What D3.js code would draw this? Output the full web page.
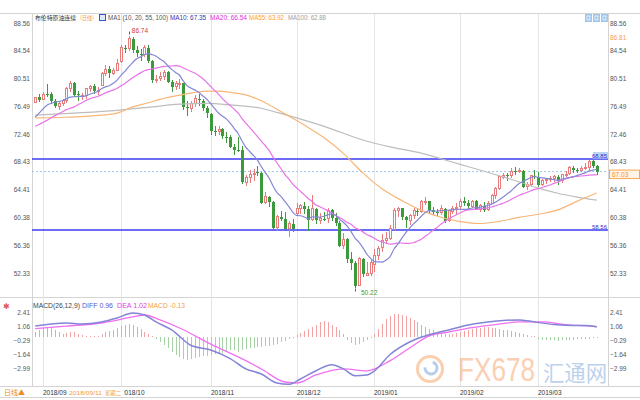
<!DOCTYPE html>
<html><head><meta charset="utf-8">
<script src="https://cdn.jsdelivr.net/npm/d3@7/dist/d3.min.js"></script>
<style>
html,body{margin:0;padding:0;background:#fff;}
svg{display:block;font-family:"Liberation Sans","Noto Sans CJK SC",sans-serif;}
</style></head><body>
<svg id="chart" width="640" height="400"></svg>
<script>
// ---------- DATA ----------
const opens=[77.1,77.8,77.5,78.3,78.2,77.3,76.5,76.9,77.4,79.1,
79.8,78.3,77.9,78.0,79.0,79.4,78.6,79.5,81.2,81.9,
81.3,81.7,83.0,85.0,84.8,86.3,84.6,84.1,84.0,85.0,
83.0,80.2,80.5,80.8,81.4,80.0,79.3,79.8,79.8,76.4,
76.2,76.9,77.6,77.3,76.3,75.4,72.9,72.8,73.2,72.1,
72.1,70.6,70.2,70.1,65.5,66.1,66.6,67.0,66.8,62.5,
63.4,62.6,58.9,60.5,60.2,58.8,59.5,61.0,61.7,62.1,
61.6,60.1,61.6,60.0,60.2,60.2,61.4,60.3,59.6,56.3,
57.2,54.3,53.8,50.5,54.4,52.0,52.2,53.6,54.9,56.0,
57.1,57.3,58.7,61.4,61.7,60.4,60.0,60.6,61.3,61.2,
62.7,62.7,61.5,61.2,61.1,61.6,59.9,61.3,61.7,61.9,
62.7,62.5,62.0,62.7,61.6,62.1,61.5,62.4,63.6,64.6,
66.2,66.5,66.4,67.1,67.0,67.1,64.8,65.2,66.4,66.3,
65.1,65.7,65.9,66.0,66.3,65.7,66.6,66.7,67.5,67.2,
67.2,67.5,67.6,68.5,67.9];
const highs=[77.9,78.3,78.5,79.72,78.5,77.6,77.2,77.6,79.3,80.1,
80.0,78.7,78.4,79.2,79.6,79.7,79.3,81.4,82.5,82.3,
82.0,83.3,85.4,85.4,86.74,86.5,85.2,84.8,85.3,85.4,
83.2,81.0,81.4,81.7,81.6,80.3,80.2,80.5,79.9,77.3,
77.2,78.1,78.3,77.5,76.6,75.5,73.7,73.6,73.3,72.8,
72.3,71.0,72.0,70.7,66.6,67.2,67.4,67.8,67.0,64.0,
63.5,62.8,60.8,61.3,61.2,59.9,60.2,62.5,62.4,62.6,
62.0,63.7,61.8,61.0,61.2,61.7,61.6,61.0,59.9,58.1,
57.4,55.4,54.0,54.6,54.5,53.9,54.2,55.8,56.2,58.0,
58.3,59.3,61.7,61.9,61.8,60.6,60.9,61.8,61.8,62.9,
63.3,62.8,61.9,61.6,62.2,61.7,61.5,62.0,62.5,63.0,
63.3,62.9,62.9,62.9,62.3,62.6,62.8,63.8,64.8,66.4,
66.8,66.8,67.5,67.7,67.6,67.3,65.5,66.6,67.2,66.9,
65.9,66.0,66.4,66.6,66.5,66.7,67.1,67.8,67.9,67.5,
67.8,68.2,68.7,68.69,68.0];
const lows=[76.9,77.1,77.4,77.8,76.8,76.3,75.9,76.5,76.9,78.5,
77.8,77.3,77.4,77.6,78.5,78.3,78.1,79.4,80.9,80.6,
81.0,81.6,82.8,84.2,84.5,84.2,83.7,83.0,83.7,82.8,
79.8,79.9,80.1,80.3,79.9,78.5,78.8,79.0,75.9,75.1,
75.6,76.4,76.6,75.8,74.8,72.4,72.2,72.3,71.7,71.2,
70.4,69.5,69.9,65.3,64.9,65.4,65.7,66.4,62.3,62.4,
61.9,58.4,58.4,59.8,58.4,57.5,58.3,60.6,60.9,60.9,
58.4,59.8,59.4,59.5,59.9,59.6,59.9,59.2,56.1,55.8,
53.8,52.8,50.22,50.4,51.8,51.9,51.9,52.5,54.2,55.4,
56.6,57.1,58.6,60.5,60.0,58.9,59.3,60.2,60.6,61.0,
62.2,60.9,60.7,60.6,60.8,59.6,59.7,60.9,60.8,61.4,
62.1,61.4,61.7,61.4,61.2,61.2,61.3,62.3,63.1,64.4,
65.9,65.6,66.1,66.6,66.8,64.6,64.3,65.0,65.9,64.8,
64.9,65.2,65.5,65.5,65.1,65.4,66.3,66.5,66.8,66.8,
67.0,67.3,67.1,67.6,66.5];
const closes=[77.77,77.42,78.15,78.17,77.27,76.50,76.83,77.37,79.06,79.74,
78.18,78.09,78.05,79.03,79.40,78.70,78.80,81.20,81.87,81.34,
81.72,82.72,84.98,84.80,86.29,84.58,84.16,83.91,85.00,83.09,
80.26,80.43,80.78,81.41,80.05,79.29,79.78,79.83,76.44,76.17,
76.89,77.62,77.34,76.31,75.47,72.89,72.83,73.17,72.13,72.07,
70.65,70.18,70.12,65.47,66.12,66.62,66.76,66.79,62.53,63.48,
62.60,58.80,60.48,60.21,58.76,59.51,58.71,61.69,62.08,61.56,
60.06,61.67,59.97,60.20,60.15,61.45,60.28,59.61,56.26,57.24,
54.35,53.82,50.47,54.47,52.16,52.20,53.80,54.91,55.95,57.06,
57.33,58.72,61.44,61.68,60.48,59.99,60.64,61.32,61.18,62.70,
62.74,61.50,61.14,61.09,61.64,59.93,61.32,61.65,61.89,62.75,
62.51,61.98,62.69,61.63,62.10,61.51,62.42,63.61,64.57,66.25,
66.50,66.45,67.08,67.07,67.12,64.76,65.21,66.39,66.31,65.07,
65.67,65.86,65.99,66.30,65.74,66.58,66.67,67.55,67.23,67.16,
67.54,67.61,68.50,67.86,67.03];
const ma10=[74.94,75.50,76.10,76.65,76.90,77.08,77.18,77.29,77.57,77.83,
77.87,77.94,77.93,78.01,78.23,78.45,78.64,79.03,79.31,79.47,
79.82,80.28,80.98,81.55,82.24,82.83,83.37,83.64,83.95,84.13,
83.98,83.75,83.33,82.99,82.37,81.84,81.40,80.99,80.14,79.44,
79.11,78.83,78.48,77.97,77.51,76.87,76.18,75.51,75.08,74.67,
74.05,73.30,72.58,71.50,70.56,69.94,69.33,68.69,67.73,66.87,
66.07,64.93,63.97,63.44,62.70,61.99,61.19,60.68,60.63,60.44,
60.19,60.47,60.42,60.42,60.56,60.75,60.91,60.70,60.12,59.69,
59.12,58.33,57.38,56.81,56.01,55.09,54.44,53.97,53.94,53.92,
54.22,54.71,55.80,56.53,57.36,58.14,58.82,59.46,59.98,60.55,
61.09,61.37,61.34,61.28,61.39,61.39,61.46,61.49,61.56,61.57,
61.54,61.59,61.75,61.80,61.85,62.00,62.11,62.31,62.58,62.93,
63.33,63.77,64.21,64.76,65.26,65.58,65.86,66.14,66.31,66.20,
66.11,66.05,65.95,65.87,65.73,65.91,66.06,66.17,66.27,66.48,
66.66,66.84,67.09,67.24,67.37];
const ma20=[73.60,73.85,74.15,74.45,74.80,75.10,75.40,75.70,76.00,76.20,
76.41,76.72,77.01,77.33,77.56,77.76,77.91,78.16,78.44,78.65,
78.84,79.11,79.45,79.78,80.23,80.64,81.00,81.33,81.63,81.80,
81.90,82.02,82.15,82.27,82.30,82.33,82.38,82.31,82.04,81.78,
81.54,81.29,80.91,80.48,79.94,79.36,78.79,78.25,77.61,77.06,
76.58,76.07,75.53,74.74,74.04,73.41,72.75,72.10,71.41,70.77,
70.06,69.12,68.27,67.47,66.63,65.96,65.26,64.68,64.18,63.66,
63.13,62.70,62.19,61.93,61.63,61.37,61.05,60.69,60.38,60.06,
59.65,59.40,58.90,58.62,58.29,57.92,57.67,57.34,57.03,56.80,
56.67,56.52,56.59,56.67,56.68,56.61,56.63,56.71,56.96,57.23,
57.65,58.04,58.57,58.90,59.38,59.76,60.14,60.48,60.77,61.06,
61.32,61.48,61.54,61.54,61.62,61.70,61.78,61.90,62.07,62.25,
62.43,62.68,62.98,63.28,63.55,63.79,63.99,64.22,64.45,64.56,
64.72,64.91,65.08,65.31,65.49,65.75,65.96,66.16,66.29,66.34,
66.39,66.45,66.52,66.56,66.55];
const ma55Idx=[0,8,17,21,25,29,32,37,41,44,47,50,54,59,64,69,74,79,84,89,94,99,104,109,114,119,124,129,134,139,144];
const ma55Val=[74.8,74.9,75.2,75.5,76.4,77.0,77.5,78.1,78.5,78.7,78.7,78.5,78.14,77.01,75.39,73.77,71.96,69.67,66.84,64.50,62.83,61.41,60.41,59.78,59.50,59.82,60.38,60.84,61.47,62.75,63.92];
const ma100Idx=[0,10,21,30,37,44,50,58,62,67,75,84,91,99,104,109,114,119,124,129,134,139,144];
const ma100Val=[75.2,75.5,75.9,76.4,76.8,76.9,76.7,76.2,75.6,74.8,73.4,71.6,70.6,69.70,68.89,68.07,67.26,66.42,65.56,64.63,63.89,63.33,62.88];
const diffIdx=[0,8,12,17,21,25,28,31,35,40,45,50,54,58,62,65,68,72,76,79,82,85,87,91,96,100,106,111,115,120,124,128,133,138,141,144];
const diffVal=[1.06,1.35,1.25,1.45,1.83,2.31,2.12,1.45,0.68,-0.82,-1.25,-2.08,-3.07,-3.57,-4.44,-4.56,-4.05,-3.26,-2.67,-3.07,-3.73,-3.66,-3.26,-1.69,-0.48,0.10,0.68,1.16,1.40,1.60,1.65,1.45,1.20,1.10,1.10,0.96];
const deaIdx=[0,8,17,25,28,32,37,45,54,58,64,67,72,79,85,91,96,101,106,112,118,124,130,136,140,144];
const deaVal=[0.80,1.05,1.35,1.93,2.12,1.64,0.87,-0.68,-2.28,-3.09,-4.34,-4.44,-3.66,-3.07,-3.26,-2.28,-1.06,0.10,0.48,0.90,1.20,1.45,1.45,1.20,1.10,1.02];
const macdHist=[0.5,0.7,0.9,1.0,0.9,0.7,0.5,0.3,0.4,0.5,
0.45,0.3,0.2,0.1,0.05,0.05,0.1,0.3,0.5,0.6,
0.7,0.9,1.1,1.2,1.3,1.2,1.0,0.8,0.5,0.3,
0.1,-0.2,-0.5,-0.8,-1.1,-1.4,-1.7,-1.9,-2.1,-2.2,
-2.1,-2.0,-1.9,-1.8,-1.8,-1.7,-1.6,-1.5,-1.5,-1.4,
-1.3,-1.3,-1.4,-1.3,-1.2,-1.1,-1.1,-1.0,-1.0,-0.9,
-0.9,-0.8,-0.7,-0.5,-0.4,-0.2,-0.05,0.2,0.4,0.6,
0.8,1.0,1.2,1.4,1.5,1.4,1.2,1.0,0.7,0.3,
-0.3,-0.6,-0.8,-0.7,-0.5,-0.3,-0.1,0.3,0.8,1.3,
1.7,2.0,2.2,2.2,2.1,2.0,1.8,1.6,1.4,1.2,
1.0,0.8,0.7,0.5,0.4,0.3,0.3,0.3,0.4,0.5,
0.6,0.7,0.8,0.9,0.9,1.0,1.0,0.9,0.9,0.8,
0.7,0.7,0.6,0.5,0.4,0.3,0.2,0.1,0.05,-0.2,
-0.25,-0.3,-0.3,-0.3,-0.35,-0.3,-0.3,-0.25,-0.25,-0.2,
-0.2,-0.15,-0.15,-0.1,-0.13];
const monthIdx=[2,22,45,67,87,109,129];
const monthLabels=["2018/09","2018/10","2018/11","2018/12","2019/01","2019/02","2019/03"];
const priceTicks=[88.56,84.54,80.51,76.49,72.46,68.43,64.41,60.38,56.36,52.33];
const macdTicks=[2.41,1.06,-0.29,-1.64,-2.99];
const levelLines=[68.85,58.56];
const lastPrice=67.03;
const markHigh={idx:24,value:86.74};
const markLow={idx:82,value:50.22};
const titleText="布伦特原油连续";
const maLegend=[["MA10: 67.35","#3535b5"],["MA20: 66.54","#e22ee2"],["MA55: 63.92","#ff9a2e"],["MA100: 62.88","#a0a0a0"]];
const macdLegend=[["DIFF 0.96","#5a5ad0"],["DEA 1.02","#e040e0"],["MACD -0.13","#f4a040"]];

// ---------- SCALES ----------
const svg=d3.select("#chart");
const PL=32, PR=608;
const x=d3.scaleLinear().domain([0,closes.length-1]).range([35.2,596.8]);
const y=d3.scaleLinear().domain([52.33,88.56]).range([273,23]);
const ym=d3.scaleLinear().domain([-2.99,2.41]).range([368,312]);
const RED="#e97b7b", GREEN="#3c9a3c";
const px=i=>Math.round(x(i));

// ---------- FRAME ----------
const frame=svg.append("g").attr("stroke","#d4d4d4").attr("shape-rendering","crispEdges");
[13.5,297.5,386.5,397.5].forEach(v=>frame.append("line").attr("x1",0).attr("x2",640).attr("y1",v).attr("y2",v));
frame.append("line").attr("x1",PL+0.5).attr("x2",PL+0.5).attr("y1",13).attr("y2",387);
frame.append("line").attr("x1",PR+0.5).attr("x2",PR+0.5).attr("y1",13).attr("y2",387);

// month gridlines
svg.append("g").selectAll("line").data(monthIdx).join("line")
  .attr("x1",d=>px(d)+0.5).attr("x2",d=>px(d)+0.5).attr("y1",14).attr("y2",386)
  .attr("stroke","#e4e4e4").attr("shape-rendering","crispEdges");

// ---------- WATERMARK (behind labels) ----------
const wm=svg.append("g").attr("opacity",0.5);
wm.append("circle").attr("cx",430).attr("cy",369).attr("r",12.5).attr("fill","none").attr("stroke","#f4a060").attr("stroke-width",3);
wm.append("path").attr("d",d3.arc()({innerRadius:4.5,outerRadius:7.5,startAngle:0.3,endAngle:4.8})).attr("transform","translate(431,368)").attr("fill","#6f9fd8");
wm.append("g").attr("transform","translate(458,381) scale(1,1.25)")
  .append("text").attr("x",0).attr("y",0).attr("font-size",27).attr("font-family","Liberation Sans").attr("fill","#f6a068").attr("textLength",77).attr("lengthAdjust","spacingAndGlyphs").text("FX678");
wm.append("text").attr("x",543).attr("y",381).attr("font-size",21.5).attr("font-family","Noto Sans CJK SC").attr("fill","#7aa6da").attr("textLength",64).attr("lengthAdjust","spacingAndGlyphs").text("汇通网");

// ---------- AXES ----------
function styleAxis(g){g.select(".domain").remove();g.attr("font-family","Liberation Sans, sans-serif").attr("font-size",6.5);g.selectAll("text").attr("fill","#555");}
svg.append("g").attr("transform","translate(610,0)")
  .call(d3.axisRight(y).tickValues(priceTicks).tickFormat(d3.format(".2f")).tickSize(0).tickPadding(0)).call(styleAxis);
svg.append("g").attr("transform","translate(30,0)")
  .call(d3.axisLeft(y).tickValues(priceTicks).tickFormat(d3.format(".2f")).tickSize(0).tickPadding(0)).call(styleAxis);
svg.append("g").attr("transform","translate(610,0)")
  .call(d3.axisRight(ym).tickValues(macdTicks).tickFormat(d3.format(".2f")).tickSize(0).tickPadding(0)).call(styleAxis);
svg.append("g").attr("transform","translate(30,0)")
  .call(d3.axisLeft(ym).tickValues(macdTicks).tickFormat(d3.format(".2f")).tickSize(0).tickPadding(0)).call(styleAxis);

// date labels
svg.append("g").selectAll("text").data(monthIdx).join("text")
  .attr("x",d=>px(d)).attr("y",395).attr("font-size",6.5).attr("fill","#333")
  .text((d,i)=>monthLabels[i]);

// ---------- LEVEL LINES ----------
svg.append("line").attr("x1",PL).attr("x2",PR).attr("y1",y(lastPrice)).attr("y2",y(lastPrice))
  .attr("stroke","#9cc6ee").attr("stroke-dasharray","2,2");
svg.append("g").selectAll("line").data(levelLines).join("line")
  .attr("x1",PL).attr("x2",PR).attr("y1",d=>y(d)).attr("y2",d=>y(d))
  .attr("stroke","#3b3bf0").attr("stroke-width",1.6);
svg.append("rect").attr("x",593).attr("y",y(levelLines[0])-7).attr("width",15).attr("height",6.5).attr("fill","#bcd6f4");
svg.append("g").selectAll("text").data(levelLines).join("text")
  .attr("x",607).attr("y",d=>y(d)-1.5).attr("text-anchor","end").attr("font-size",6).attr("fill","#3030d0")
  .text(d=>d3.format(".2f")(d));
// last price box
svg.append("rect").attr("x",609.5).attr("y",y(lastPrice)-1.5).attr("width",30).attr("height",8.5)
  .attr("fill","#fff4e6").attr("stroke","#f7a650");
svg.append("text").attr("x",612).attr("y",y(lastPrice)+5).attr("font-size",6.5).attr("fill","#f39030").text(d3.format(".2f")(lastPrice));
svg.append("text").attr("x",610).attr("y",40).attr("font-size",6.5).attr("fill","#f6a050").text("86.81");

// ---------- CANDLES ----------
const candles=closes.map((c,i)=>({i,o:opens[i],h:highs[i],l:lows[i],c,up:c>=opens[i]}));
const cg=svg.append("g").attr("shape-rendering","crispEdges");
cg.selectAll("line").data(candles).join("line")
  .attr("x1",d=>px(d.i)+0.5).attr("x2",d=>px(d.i)+0.5)
  .attr("y1",d=>y(d.h)).attr("y2",d=>y(d.l))
  .attr("stroke",d=>d.up?RED:GREEN);
cg.selectAll("rect").data(candles).join("rect")
  .attr("x",d=>d.up?px(d.i)-0.5:px(d.i)-1)
  .attr("width",d=>d.up?2:3)
  .attr("y",d=>y(Math.max(d.o,d.c)))
  .attr("height",d=>Math.max(1,Math.abs(y(d.o)-y(d.c))))
  .attr("fill",d=>d.up?"#fff":GREEN)
  .attr("stroke",d=>d.up?RED:"none");

// ---------- MOVING AVERAGES ----------
const lineP=d3.line().x(d=>x(d[0])).y(d=>y(d[1])).curve(d3.curveMonotoneX);
const maSeries=[
  {pts:ma100Idx.map((v,k)=>[v,ma100Val[k]]),color:"#bdbdbd"},
  {pts:ma55Idx.map((v,k)=>[v,ma55Val[k]]),color:"#f8b678"},
  {pts:ma20.map((v,i)=>[i,v]),color:"#e874e8"},
  {pts:ma10.map((v,i)=>[i,v]),color:"#8686d6"}];
svg.append("g").selectAll("path").data(maSeries).join("path")
  .attr("d",d=>lineP(d.pts)).attr("fill","none").attr("stroke",d=>d.color).attr("stroke-width",1.2);

// high / low marks
svg.append("line").attr("x1",px(markHigh.idx)+0.5).attr("x2",px(markHigh.idx)+0.5)
  .attr("y1",y(markHigh.value)-1).attr("y2",y(markHigh.value)-4).attr("stroke","#666");
svg.append("text").attr("x",x(markHigh.idx)+3).attr("y",y(markHigh.value)-2.5).attr("font-size",6.5).attr("fill","#d03a3a").text(markHigh.value.toFixed(2));
svg.append("line").attr("x1",px(markLow.idx)+0.5).attr("x2",px(markLow.idx)+0.5)
  .attr("y1",y(markLow.value)+1).attr("y2",y(markLow.value)+4).attr("stroke","#666");
svg.append("text").attr("x",x(markLow.idx)+6).attr("y",y(markLow.value)+7).attr("font-size",6.5).attr("fill","#3a9a3a").text(markLow.value.toFixed(2));

// ---------- MACD ----------
svg.append("g").attr("shape-rendering","crispEdges").selectAll("line").data(macdHist).join("line")
  .attr("x1",(d,i)=>px(i)+0.5).attr("x2",(d,i)=>px(i)+0.5)
  .attr("y1",ym(0)).attr("y2",d=>ym(d))
  .attr("stroke",d=>d>=0?"#f2a2a2":"#a6d2a6");
const lineM=d3.line().x(d=>x(d[0])).y(d=>ym(d[1])).curve(d3.curveMonotoneX);
svg.append("path").attr("d",lineM(deaIdx.map((v,k)=>[v,deaVal[k]]))).attr("fill","none").attr("stroke","#f070f0").attr("stroke-width",1.3);
svg.append("path").attr("d",lineM(diffIdx.map((v,k)=>[v,diffVal[k]]))).attr("fill","none").attr("stroke","#8484d8").attr("stroke-width",1.5);

// ---------- TITLES ----------
const T=svg.append("g").attr("font-size",6.5);
T.append("text").attr("x",35).attr("y",20).attr("font-size",5.9).attr("fill","#333").attr("font-family","Noto Sans CJK SC").attr("textLength",41).attr("lengthAdjust","spacingAndGlyphs").text(titleText);
T.append("text").attr("x",77).attr("y",20).attr("font-size",5.3).attr("fill","#f39a3c").attr("font-family","Noto Sans CJK SC").attr("textLength",20).attr("lengthAdjust","spacingAndGlyphs").text("（日线）");
T.append("rect").attr("x",99.5).attr("y",14.5).attr("width",6).attr("height",6).attr("fill","#dfe8ff").attr("stroke","#3a55c8");
T.append("text").attr("x",108).attr("y",20).attr("fill","#555").attr("textLength",60).attr("lengthAdjust","spacingAndGlyphs").text("MA1 (10, 20, 55, 100)");
const legX=[170,210,249,288], legW=[36,37,35,38];
maLegend.forEach((m,k)=>T.append("text").attr("x",legX[k]).attr("y",20).attr("fill",m[1]).attr("textLength",legW[k]).attr("lengthAdjust","spacingAndGlyphs").text(m[0]));

const M=svg.append("g").attr("font-size",6.5);
M.append("text").attr("x",3).attr("y",309).attr("fill","#e05a5a").attr("font-size",8).attr("font-family","DejaVu Sans").text("✱");
M.append("text").attr("x",33).attr("y",308).attr("fill","#444").attr("textLength",47).attr("lengthAdjust","spacingAndGlyphs").text("MACD(26,12,9)");
const mlX=[82,117,148], mlW=[31,30,37];
macdLegend.forEach((m,k)=>M.append("text").attr("x",mlX[k]).attr("y",308).attr("fill",m[1]).attr("textLength",mlW[k]).attr("lengthAdjust","spacingAndGlyphs").text(m[0]));

// top-right buttons
svg.append("g").selectAll("rect").data([0,1,2]).join("rect")
  .attr("x",d=>585+d*8).attr("y",14).attr("width",7).attr("height",8).attr("fill","#9fc5ec");
svg.append("g").selectAll("rect").data([0,1,2]).join("rect")
  .attr("x",d=>587+d*8).attr("y",16).attr("width",3).attr("height",4).attr("fill","none").attr("stroke","#fff").attr("stroke-width",0.7);

// bottom-left + tooltip label
svg.append("text").attr("x",4).attr("y",395).attr("font-size",7).attr("fill","#f08a24").attr("font-family","Noto Sans CJK SC").text("日线▲");
svg.append("rect").attr("x",68).attr("y",388).attr("width",56).attr("height",9).attr("fill","#fff");
svg.append("text").attr("x",69).attr("y",395).attr("font-size",6).attr("fill","#f39a3c").attr("textLength",33).attr("lengthAdjust","spacingAndGlyphs").text("2018/09/11");
svg.append("text").attr("x",105).attr("y",395).attr("font-size",5.6).attr("fill","#f39a3c").attr("font-family","Noto Sans CJK SC").attr("textLength",16).attr("lengthAdjust","spacingAndGlyphs").text("星期二");
</script>
</body></html>
